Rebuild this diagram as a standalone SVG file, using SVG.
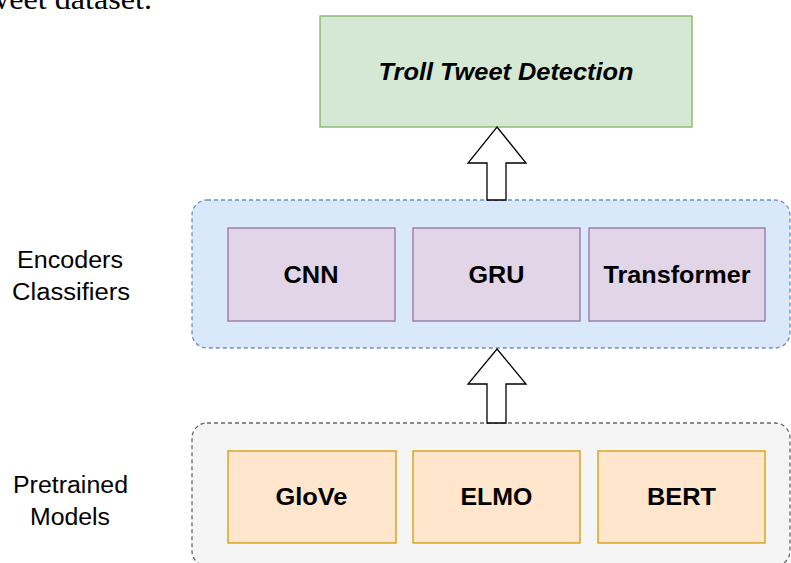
<svg xmlns="http://www.w3.org/2000/svg" width="791" height="563" viewBox="0 0 791 563">
  <style>
    .lbl { font-family: "Liberation Sans", Arial, sans-serif; font-size: 24px; font-weight: bold; fill: #000; text-anchor: middle; }
    .side { font-family: "Liberation Sans", Arial, sans-serif; font-size: 23px; fill: #000; text-anchor: middle; }
    .enc { fill: #e1d5e7; stroke: #9673a6; stroke-width: 1.3; }
    .pre { fill: #ffe6cc; stroke: #d79b00; stroke-width: 1.3; }
    .arrow { fill: #ffffff; stroke: #000000; stroke-width: 1.3; stroke-linejoin: miter; }
  </style>
  <rect width="791" height="563" fill="#ffffff"/>
  <text x="-14" y="9" font-family="Liberation Serif, Times New Roman, serif" font-size="30" fill="#000" textLength="166" lengthAdjust="spacingAndGlyphs">weet dataset.</text>

  <g id="containers">
    <rect id="encoders-container" x="192" y="200" width="598" height="148" rx="15" ry="15" fill="#dae8fc" stroke="#6c8ebf" stroke-width="1.3" stroke-dasharray="4 3"/>
    <rect id="pretrained-container" x="192" y="423" width="598" height="143" rx="15" ry="15" fill="#f5f5f5" stroke="#666666" stroke-width="1.3" stroke-dasharray="4 3"/>
  </g>

  <g id="label-encoders">
    <text class="side" x="70" y="268" textLength="106" lengthAdjust="spacingAndGlyphs">Encoders</text>
    <text class="side" x="71" y="300" textLength="118" lengthAdjust="spacingAndGlyphs">Classifiers</text>
  </g>
  <g id="label-pretrained">
    <text class="side" x="70.5" y="493" textLength="115" lengthAdjust="spacingAndGlyphs">Pretrained</text>
    <text class="side" x="70" y="525" textLength="80" lengthAdjust="spacingAndGlyphs">Models</text>
  </g>

  <g id="troll">
    <rect x="320" y="16" width="372" height="111" fill="#d5e8d4" stroke="#82b366" stroke-width="1.3"/>
    <text class="lbl" x="506" y="80" font-size="22" font-style="italic" textLength="255" lengthAdjust="spacingAndGlyphs">Troll Tweet Detection</text>
  </g>

  <g id="cnn">
    <rect class="enc" x="228" y="228" width="167" height="93"/>
    <text class="lbl" x="311" y="283" textLength="55" lengthAdjust="spacingAndGlyphs">CNN</text>
  </g>
  <g id="gru">
    <rect class="enc" x="413" y="228" width="167" height="93"/>
    <text class="lbl" x="496.5" y="283" textLength="56" lengthAdjust="spacingAndGlyphs">GRU</text>
  </g>
  <g id="transformer">
    <rect class="enc" x="589" y="228" width="176" height="93"/>
    <text class="lbl" x="677" y="283" textLength="147" lengthAdjust="spacingAndGlyphs">Transformer</text>
  </g>

  <g id="glove">
    <rect class="pre" x="228" y="451" width="168" height="92"/>
    <text class="lbl" x="311.5" y="505" textLength="72" lengthAdjust="spacingAndGlyphs">GloVe</text>
  </g>
  <g id="elmo">
    <rect class="pre" x="413" y="451" width="167" height="92"/>
    <text class="lbl" x="496.5" y="505" textLength="72" lengthAdjust="spacingAndGlyphs">ELMO</text>
  </g>
  <g id="bert">
    <rect class="pre" x="598" y="451" width="167" height="92"/>
    <text class="lbl" x="681.5" y="505" textLength="69" lengthAdjust="spacingAndGlyphs">BERT</text>
  </g>

  <g id="connectors">
    <path class="arrow" d="M497,127 L526,163 L506,163 L506,200 L487,200 L487,163 L468,163 Z"/>
    <path class="arrow" d="M497,349 L526,384 L506,384 L506,423 L487,423 L487,384 L468,384 Z"/>
  </g>
</svg>
